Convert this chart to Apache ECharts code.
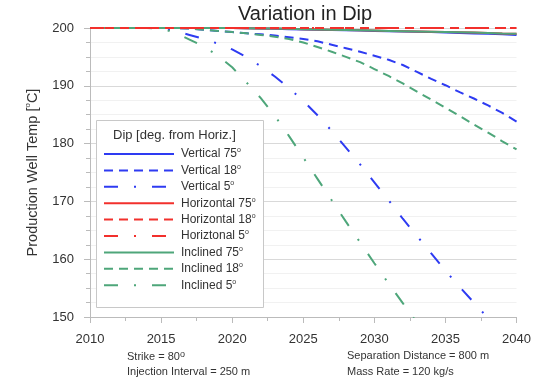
<!DOCTYPE html>
<html>
    <head>
        <meta charset="utf-8">
        <title>Variation in Dip</title>
        <script src="https://cdn.jsdelivr.net/npm/echarts@6/dist/echarts.min.js"></script>
    </head>
    <body style="margin:0">
        <style>
            html, body, #main {
                width: 534px;
                height: 382px;
                background: #fff;
            }
        </style>
        <div id="main"></div>
        <script>
            // years on the x axis
            var years = [];
            for (var y = 2010; y <= 2040; y++) years.push(y);

            // production well temperature [C], one value per year
            var vertical75 = [200, 200, 200, 200, 200, 200, 200, 200, 200, 200, 200,
                199.95, 199.9, 199.85, 199.8, 199.75, 199.7, 199.65, 199.6, 199.55, 199.5,
                199.45, 199.4, 199.35, 199.3, 199.2, 199.15, 199.05, 199.0, 198.9, 198.8];
            var vertical18 = [200, 200, 200, 200, 200, 200, 200, 199.9, 199.7, 199.5, 199.3,
                199.1, 198.9, 198.7, 198.4, 198.1, 197.7, 197.1, 196.5, 195.9, 195.2,
                194.5, 193.6, 192.4, 191.2, 190.1, 188.9, 187.8, 186.6, 185.3, 183.8];
            var vertical5 = [200, 200, 200, 200, 200, 199.95, 199.5, 198.8, 198.1, 197.3, 196.3,
                195.0, 193.4, 191.6, 189.6, 187.4, 184.9, 182.2, 179.3, 176.4, 173.3,
                170.2, 167.0, 164.0, 161.0, 158.0, 155.2, 152.5, 149.8, 147.2, 144.7];
            // the solid red line is hidden under the solid green one
            var horizontal75 = [200, 200, 200, 200, 200, 200, 200, 200, 200, 200, 200,
                199.95, 199.9, 199.9, 199.85, 199.8, 199.75, 199.7, 199.65, 199.6, 199.55,
                199.5, 199.45, 199.4, 199.35, 199.3, 199.25, 199.2, 199.15, 199.05, 199.0];
            var horizontal18 = [200, 200, 200, 200, 200, 200, 200, 200, 200, 200, 200,
                200, 200, 200, 200, 200, 200, 200, 200, 200, 200,
                200, 200, 200, 200, 200, 200, 200, 200, 200, 200];
            var horizontal5 = horizontal18.slice();
            var inclined75 = [200, 200, 200, 200, 200, 200, 200, 200, 200, 200, 200,
                199.95, 199.9, 199.9, 199.85, 199.8, 199.75, 199.7, 199.65, 199.6, 199.55,
                199.5, 199.45, 199.4, 199.35, 199.3, 199.25, 199.2, 199.15, 199.05, 199.0];
            var inclined18 = [200, 200, 200, 200, 200, 200, 200, 199.9, 199.7, 199.5, 199.3,
                199.1, 198.8, 198.5, 198.1, 197.5, 196.7, 195.9, 195.0, 194.1, 192.9,
                191.7, 190.4, 189.0, 187.6, 186.2, 184.8, 183.3, 181.9, 180.4, 179.0];
            var inclined5 = [200, 200, 200, 200, 200, 199.9, 199.2, 198.0, 196.8, 195.2, 193.2,
                190.6, 187.9, 184.8, 181.3, 177.6, 173.9, 170.2, 166.5, 162.9, 159.3,
                155.8, 152.4, 149.0, 145.6, 142.2, 138.8, 135.4, 132.0, 128.6, 125.2];

            var seriesNames = ['Vertical 75', 'Vertical 18', 'Vertical 5',
                'Horizontal 75', 'Horizontal 18', 'Horiztonal 5',
                'Inclined 75', 'Inclined 18', 'Inclined 5'];
            var seriesValues = [vertical75, vertical18, vertical5,
                horizontal75, horizontal18, horizontal5,
                inclined75, inclined18, inclined5];

            var xTicks = [2010, 2015, 2020, 2025, 2030, 2035, 2040];
            var yTicks = [150, 160, 170, 180, 190, 200];

            var blue = '#2e3bf2', red = '#f2302c', green = '#4ea67a';
            var colors = [blue, blue, blue, red, red, red, green, green, green];
            var dashes = ['solid', [9, 6], [14, 16, 2, 16]];
            var font = 'Liberation Sans, Arial, sans-serif';

            var chart = echarts.init(document.getElementById('main'));

            var series = seriesNames.map(function (name, i) {
                return {
                    name: name,
                    type: 'line',
                    // red dashed lines sit on top of the others at 200
                    z: (i === 4 || i === 5) ? 3 : 2,
                    showSymbol: false,
                    symbol: 'none',
                    color: colors[i],
                    lineStyle: { width: 2, color: colors[i], type: dashes[i % 3] },
                    data: years.map(function (yr, k) { return [yr, seriesValues[i][k]]; })
                };
            });

            chart.setOption({
                animation: false,
                textStyle: { fontFamily: font },
                title: {
                    text: 'Variation in Dip',
                    left: 238,
                    top: 4,
                    padding: 0,
                    textStyle: { fontSize: 20, fontWeight: 'normal', color: '#222', fontFamily: font }
                },
                grid: { left: 90, right: 17, top: 28, bottom: 65 },
                legend: {
                    orient: 'vertical',
                    left: 103,
                    top: 147,
                    padding: 0,
                    itemWidth: 70,
                    itemHeight: 14,
                    itemGap: 3.4,
                    selectedMode: false,
                    data: seriesNames,
                    // hide the marker that ECharts puts in the middle of a line icon
                    itemStyle: { opacity: 0 },
                    formatter: function (name) {
                        return '{t|' + name + '}{s|o}';
                    },
                    textStyle: {
                        padding: [0, 0, 0, 2],
                        rich: {
                            t: { fontSize: 12, color: '#333', fontFamily: font, lineHeight: 14 },
                            s: { fontSize: 7, color: '#333', fontFamily: font, verticalAlign: 'top', lineHeight: 14 }
                        }
                    }
                },
                xAxis: {
                    type: 'value',
                    min: 2010,
                    max: 2040,
                    interval: 5,
                    axisLine: { lineStyle: { color: '#bbb' } },
                    axisTick: { show: true, length: 6, lineStyle: { color: '#bbb' } },
                    minorTick: { show: true, splitNumber: 2, length: 4, lineStyle: { color: '#bbb' } },
                    splitLine: { show: false },
                    axisLabel: {
                        margin: 16,
                        fontSize: 13,
                        color: '#333',
                        formatter: function (v) { return xTicks.indexOf(v) >= 0 ? String(v) : ''; }
                    }
                },
                yAxis: {
                    type: 'value',
                    min: 150,
                    max: 200,
                    interval: 10,
                    name: '{a|Production Well Temp [}{s|o}{a|C]}',
                    nameLocation: 'middle',
                    nameGap: 49,
                    nameTextStyle: {
                        rich: {
                            a: { fontSize: 14.5, color: '#333', fontFamily: font, lineHeight: 17 },
                            s: { fontSize: 8, color: '#333', fontFamily: font, verticalAlign: 'top', lineHeight: 17 }
                        }
                    },
                    axisLine: { show: true, lineStyle: { color: '#bbb' } },
                    axisTick: { show: true, length: 6, lineStyle: { color: '#bbb' } },
                    minorTick: { show: true, splitNumber: 4, length: 4, lineStyle: { color: '#bbb' } },
                    splitLine: { show: true, lineStyle: { color: '#d9d9d9' } },
                    minorSplitLine: { show: true, lineStyle: { color: '#f1f1f1' } },
                    axisLabel: {
                        margin: 16,
                        fontSize: 13,
                        color: '#333',
                        formatter: function (v) { return yTicks.indexOf(v) >= 0 ? String(v) : ''; }
                    }
                },
                graphic: [
                    {
                        type: 'rect',
                        z: 3,
                        shape: { x: 96.5, y: 120.5, width: 167, height: 187 },
                        style: { fill: '#fff', stroke: '#c8c8c8', lineWidth: 1 }
                    },
                    {
                        type: 'text',
                        z: 5,
                        left: 113,
                        top: 129,
                        style: { text: 'Dip [deg. from Horiz.]', font: '13px ' + font, fill: '#333' }
                    },
                    {
                        type: 'text',
                        left: 127,
                        top: 350,
                        style: {
                            text: '{a|Strike = 80}{s|o}',
                            rich: {
                                a: { font: '11px ' + font, fill: '#333', lineHeight: 13 },
                                s: { font: '9px ' + font, fill: '#333', verticalAlign: 'top', lineHeight: 13 }
                            }
                        }
                    },
                    {
                        type: 'text',
                        left: 127,
                        top: 366,
                        style: { text: 'Injection Interval = 250 m', font: '11px ' + font, fill: '#333' }
                    },
                    {
                        type: 'text',
                        left: 347,
                        top: 350,
                        style: { text: 'Separation Distance = 800 m', font: '11px ' + font, fill: '#333' }
                    },
                    {
                        type: 'text',
                        left: 347,
                        top: 366,
                        style: { text: 'Mass Rate = 120 kg/s', font: '11px ' + font, fill: '#333' }
                    }
                ],
                series: series
            });
        </script>
    </body>
</html>
